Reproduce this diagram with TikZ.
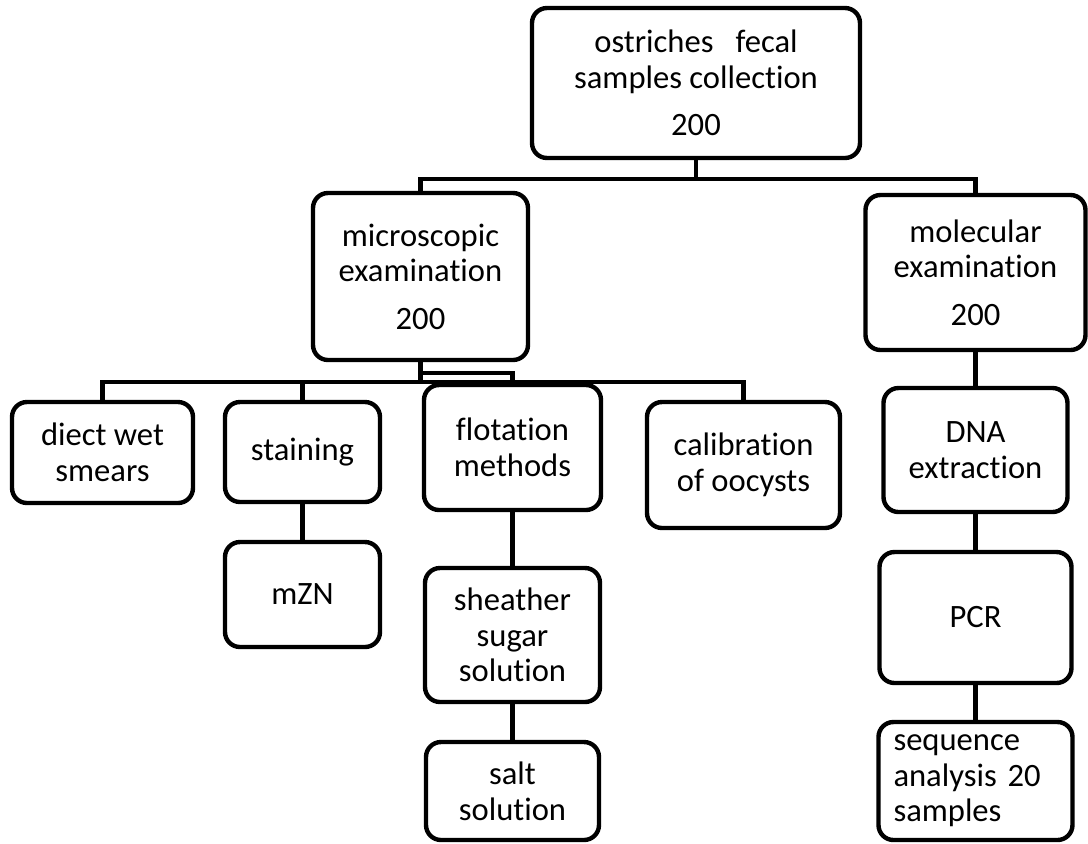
\documentclass[tikz,border=0pt]{standalone}
\usepackage{fontspec}
\setmainfont{Carlito}[Ligatures=NoCommon]
\usepackage{tikz}
\tikzset{
	blk/.style={draw=black, line width=2.2pt, rounded corners=7.5pt, align=center, inner sep=2pt,
		font=\fontsize{16.3}{17.8}\selectfont},
	lnk/.style={draw=black, line width=2.2pt}
}

\begin{document}
\begin{tikzpicture}[x=0.5pt,y=-0.5pt]
	\useasboundingbox (0,0) rectangle (1088,843);
	\node[blk, minimum width=164pt, minimum height=75pt] (coll) at (696,83)
		{ostriches\ \ \ fecal\\samples collection\\[6pt]200};
	\node[blk, minimum width=107.5pt, minimum height=83.5pt] (micro) at (420.5,276.5)
		{microscopic\\examination\\[6pt]200};
	\node[blk, minimum width=110pt, minimum height=77.5pt] (molec) at (975.5,272.5)
		{molecular\\examination\\[6pt]200};
	\node[blk, minimum width=90.5pt, minimum height=50.5pt] (wet) at (102.5,452.5) {diect wet\\smears};
	\node[blk, minimum width=77.5pt, minimum height=50pt] (stain) at (302.5,452) {staining};
	\node[blk, minimum width=88.5pt, minimum height=62.5pt] (flot) at (512.5,447.5) {flotation\\methods};
	\node[blk, minimum width=96.5pt, minimum height=63pt] (calib) at (743.5,465) {calibration\\of oocysts};
	\node[blk, minimum width=92pt, minimum height=62pt] (dna) at (975.5,450) {DNA\\extraction};
	\node[blk, minimum width=77.5pt, minimum height=52.5pt] (mzn) at (302.5,594.5) {mZN};
	\node[blk, minimum width=87.5pt, minimum height=67pt] (sugar) at (512.5,635) {sheather\\sugar\\solution};
	\node[blk, minimum width=86.5pt, minimum height=49pt] (salt) at (512.5,791) {salt\\solution};
	\node[blk, minimum width=96pt, minimum height=65.5pt] (pcr) at (975.5,617.5) {PCR};
	\node[blk, minimum width=97pt, minimum height=59pt, text width=82pt, align=left] (seq) at (975.5,781)
		{sequence\\analysis 20\\samples};

	\draw[lnk] (coll.south) -- ++(0,19) -| (micro.north);
	\draw[lnk] (coll.south) ++(0,19) -| (molec.north);
	\draw[lnk] (micro.south) -- ++(0,20) coordinate (jct);
	\draw[lnk] (wet.north) |- (jct) -| (calib.north);
	\draw[lnk] (stain.north) -- (stain.north |- jct);
	\draw[lnk] (micro.south) ++(0,11) -| (flot.north);
	\draw[lnk] (stain.south) -- (mzn.north);
	\draw[lnk] (flot.south) -- (sugar.north);
	\draw[lnk] (sugar.south) -- (salt.north);
	\draw[lnk] (molec.south) -- (dna.north);
	\draw[lnk] (dna.south) -- (pcr.north);
	\draw[lnk] (pcr.south) -- (seq.north);
\end{tikzpicture}
\end{document}
